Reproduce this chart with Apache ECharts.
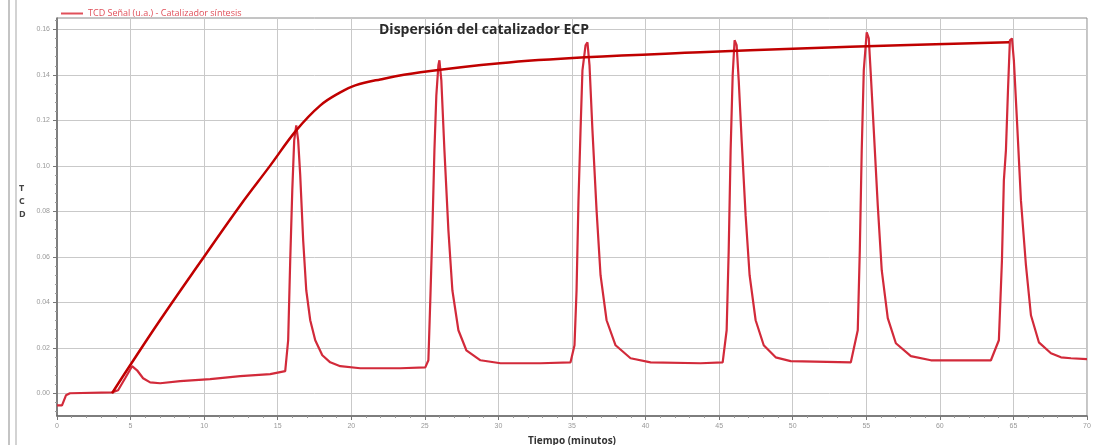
<!DOCTYPE html>
<html>
<head>
<meta charset="utf-8">
<script src="https://cdn.jsdelivr.net/npm/echarts@6/dist/echarts.min.js"></script>
<style>
  html, body { margin: 0; padding: 0; background: #ffffff; }
  #chart { width: 1093px; height: 445px; }
</style>
</head>
<body>
<div id="chart"></div>
<script>
// TCD signal, time in minutes
const signalTime = [
  0, 0.34, 0.61, 0.88, 3.74, 4.15, 4.63, 5.10, 5.44, 5.85, 6.33, 7.01, 8.37, 10.41, 12.45, 14.49, 15.51,
  15.71, 15.85, 15.99, 16.12, 16.26, 16.39, 16.53, 16.73, 16.94, 17.21, 17.55, 18.03, 18.57, 19.25, 20.61, 23.33, 25.03,
  25.24, 25.37, 25.51, 25.65, 25.78, 25.92, 25.99, 26.12, 26.33, 26.60, 26.87, 27.28, 27.82, 28.78, 30.14, 32.86, 34.90,
  35.17, 35.31, 35.44, 35.58, 35.71, 35.92, 36.05, 36.19, 36.39, 36.67, 36.94, 37.35, 37.96, 38.98, 40.34, 43.74, 45.24,
  45.51, 45.65, 45.78, 45.92, 46.05, 46.19, 46.33, 46.53, 46.80, 47.07, 47.48, 48.03, 48.84, 49.86, 53.95,
  54.42, 54.56, 54.69, 54.83, 55.03, 55.17, 55.31, 55.51, 55.78, 56.05, 56.46, 57.01, 58.03, 59.39, 63.47,
  64.01, 64.22, 64.35, 64.49, 64.63, 64.76, 64.90, 65.03, 65.24, 65.51, 65.85, 66.19, 66.73, 67.55, 68.23, 68.91, 70.0
];
const signalValue = [
  -0.0053, -0.0053, -0.0009, 0.0000, 0.0004, 0.0013, 0.0066, 0.0119, 0.0101, 0.0066, 0.0048, 0.0044, 0.0053, 0.0062, 0.0075, 0.0084, 0.0097,
  0.0233, 0.0585, 0.0892, 0.1112, 0.1178, 0.1112, 0.0958, 0.0673, 0.0453, 0.0321, 0.0233, 0.0167, 0.0136, 0.0119, 0.0110, 0.0110, 0.0114,
  0.0145, 0.0409, 0.0716, 0.1068, 0.1310, 0.1442, 0.1464, 0.1376, 0.1068, 0.0716, 0.0453, 0.0277, 0.0189, 0.0145, 0.0132, 0.0132, 0.0136,
  0.0211, 0.0453, 0.0848, 0.1156, 0.1420, 0.1530, 0.1543, 0.1442, 0.1156, 0.0804, 0.0519, 0.0321, 0.0211, 0.0154, 0.0136, 0.0132, 0.0136,
  0.0277, 0.0629, 0.1068, 0.1398, 0.1552, 0.1530, 0.1376, 0.1112, 0.0782, 0.0519, 0.0321, 0.0211, 0.0158, 0.0141, 0.0136,
  0.0277, 0.0629, 0.1068, 0.1420, 0.1587, 0.1560, 0.1398, 0.1156, 0.0826, 0.0541, 0.0330, 0.0220, 0.0163, 0.0145, 0.0145,
  0.0233, 0.0585, 0.0936, 0.1068, 0.1332, 0.1552, 0.1560, 0.1464, 0.1200, 0.0848, 0.0563, 0.0343, 0.0224, 0.0176, 0.0158, 0.0154, 0.0150
];

// Cumulative dispersion curve
const curveTime = [3.74, 4.97, 7.0, 9.73, 12.45, 14.5, 16.26, 17.9, 19.25, 20.27, 21.97, 24.7, 30.1, 35.9, 43.7, 50.5, 57.3, 64.7];
const curveValue = [0, 0.0123, 0.0321, 0.0576, 0.0826, 0.1002, 0.1156, 0.1266, 0.1323, 0.1354, 0.1380, 0.1411, 0.1451, 0.1477, 0.1499, 0.1516, 0.1530, 0.1543];

// Axis ticks
const yMajorTicks = [0, 0.02, 0.04, 0.06, 0.08, 0.10, 0.12, 0.14, 0.16];
const yMinorTicks = [];
for (let i = -2; i <= 41; i++) {
  const v = +(i * 0.004).toFixed(3);
  if (i % 5 !== 0) yMinorTicks.push(v);
}

const signalName = 'TCD Señal (u.a.) - Catalizador síntesis';
const yAxisTitle = 'T\nC\nD';

const chart = echarts.init(document.getElementById('chart'));

const zip = (xs, ys) => xs.map((x, i) => [x, ys[i]]);

chart.setOption({
  backgroundColor: '#ffffff',
  animation: false,
  title: {
    text: 'Dispersión del catalizador ECP',
    left: 374,
    top: 18,
    textStyle: { fontFamily: 'Open Sans', fontSize: 14, fontWeight: 'bold', color: '#2a2a2a' }
  },
  legend: {
    data: [{ name: signalName, icon: 'rect' }],
    left: 56,
    top: 4,
    itemWidth: 22,
    itemHeight: 2,
    itemGap: 6,
    textStyle: { fontFamily: 'Open Sans', fontSize: 9, color: '#e0505a' }
  },
  graphic: [
    { type: 'line', shape: { x1: 9, y1: 0, x2: 9, y2: 445 }, style: { stroke: '#c4c4c4', lineWidth: 2 }, silent: true },
    { type: 'line', shape: { x1: 16, y1: 0, x2: 16, y2: 445 }, style: { stroke: '#c4c4c4', lineWidth: 1.5 }, silent: true },
    {
      type: 'text', left: 19, top: 182, silent: true,
      style: {
        text: yAxisTitle, fill: '#444', align: 'center',
        font: 'bold 9px "Open Sans"', lineHeight: 13
      }
    }
  ],
  grid: {
    left: 57, right: 6, top: 18, bottom: 29,
    outerBoundsMode: 'none',
    containLabel: false,
    show: true, borderColor: '#8a8a8a', borderWidth: 1
  },
  xAxis: {
    type: 'value',
    min: 0, max: 70, interval: 5,
    name: 'Tiempo (minutos)',
    nameLocation: 'middle',
    nameGap: 20,
    nameTextStyle: { fontFamily: 'Open Sans', fontSize: 10, fontWeight: 'bold', color: '#333' },
    axisLine: { show: true, onZero: false, lineStyle: { color: '#666', width: 1.5 } },
    axisTick: { show: true, length: 4, lineStyle: { color: '#777' } },
    minorTick: { show: true, splitNumber: 5, length: 2, lineStyle: { color: '#999' } },
    axisLabel: { fontSize: 7, color: '#999', margin: 7 },
    splitLine: { show: true, lineStyle: { color: '#c9c9c9', width: 1 } }
  },
  yAxis: [
    {
      type: 'value',
      min: -0.01, max: 0.165,
      axisLine: { show: true, onZero: false, lineStyle: { color: '#666', width: 1.5 } },
      axisTick: { show: true, length: 4, customValues: yMajorTicks, lineStyle: { color: '#777' } },
      axisLabel: { fontSize: 7, color: '#999', margin: 7, customValues: yMajorTicks, formatter: v => v.toFixed(2) },
      splitLine: { show: true, lineStyle: { color: '#c9c9c9', width: 1 } }
    },
    {
      type: 'value',
      min: -0.01, max: 0.165,
      position: 'left',
      axisLine: { show: false },
      axisTick: { show: true, length: 2, customValues: yMinorTicks, lineStyle: { color: '#999' } },
      axisLabel: { show: false },
      splitLine: { show: false }
    }
  ],
  series: [
    {
      name: signalName,
      type: 'line',
      data: zip(signalTime, signalValue),
      symbol: 'none',
      lineStyle: { color: '#d22a3a', width: 2.2 },
      itemStyle: { color: '#e0505a' },
      z: 3
    },
    {
      name: 'Dispersión',
      type: 'line',
      data: zip(curveTime, curveValue),
      smooth: 0.4,
      symbol: 'none',
      lineStyle: { color: '#c00000', width: 2.5 },
      itemStyle: { color: '#c00000' },
      z: 4
    }
  ]
});
</script>
</body>
</html>
